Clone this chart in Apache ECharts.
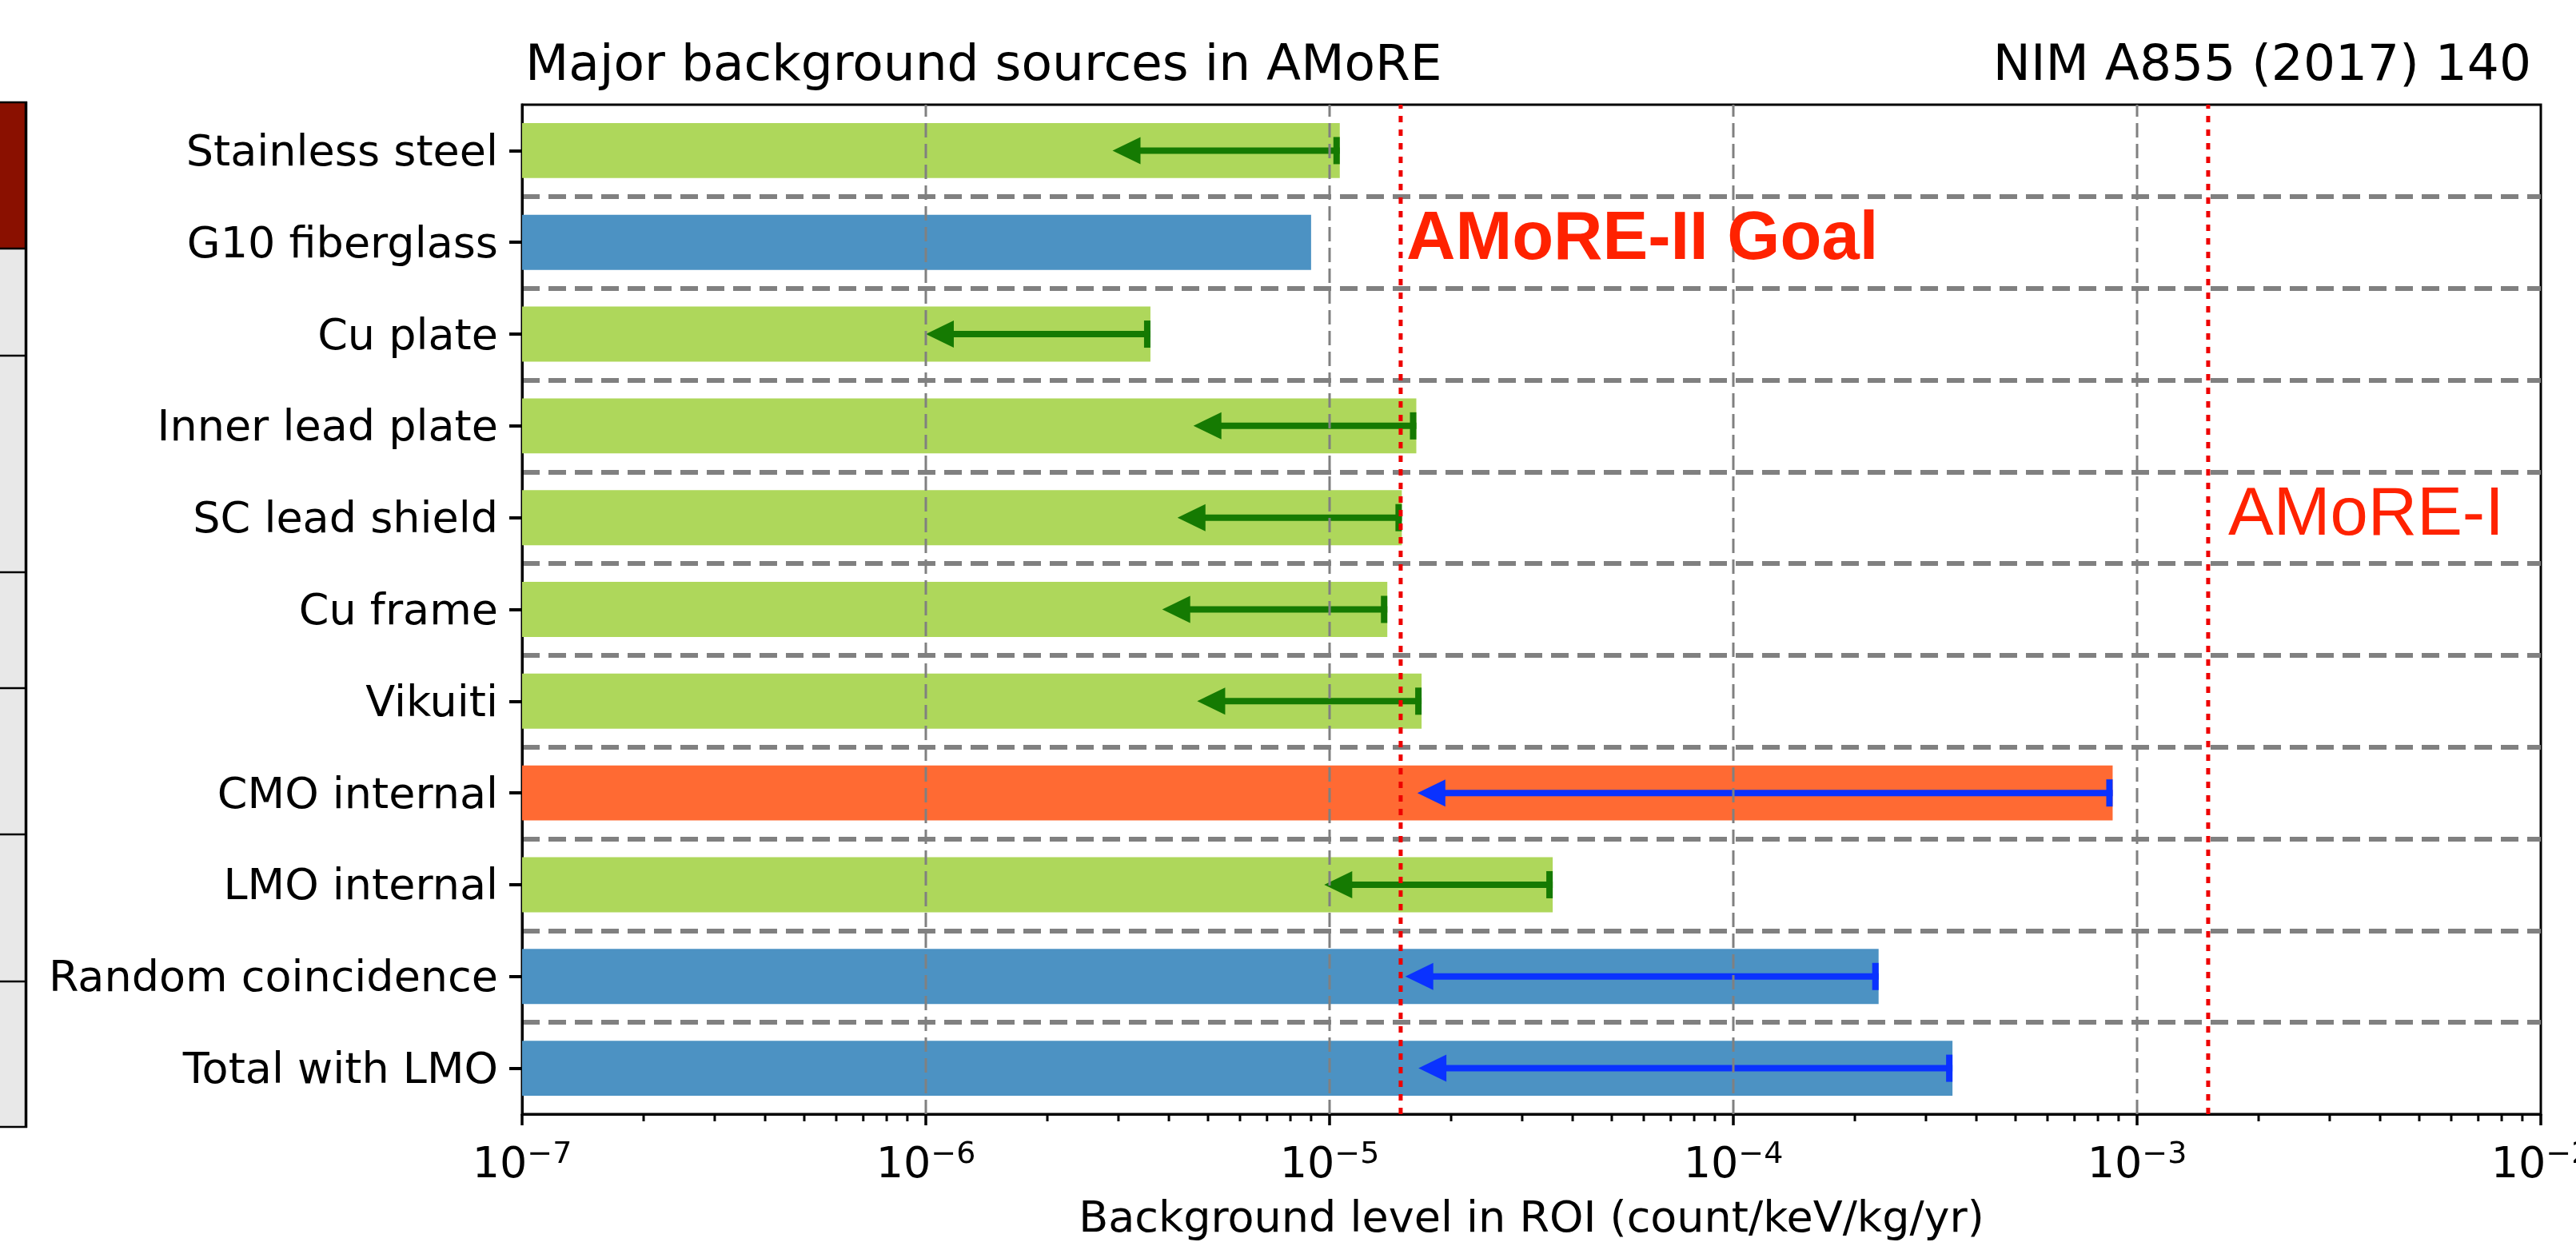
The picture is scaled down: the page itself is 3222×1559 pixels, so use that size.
<!DOCTYPE html>
<html>
<head>
<meta charset="utf-8">
<script src="https://cdn.jsdelivr.net/npm/echarts@6/dist/echarts.min.js"></script>
<style>
  html, body { margin: 0; padding: 0; background: #ffffff; }
  #chart { width: 3222px; height: 1559px; }
</style>
</head>
<body>
<div id="chart"></div>
<script>
// Background sources, top to bottom
const sources = ['Stainless steel', 'G10 fiberglass', 'Cu plate', 'Inner lead plate', 'SC lead shield',
  'Cu frame', 'Vikuiti', 'CMO internal', 'LMO internal', 'Random coincidence', 'Total with LMO'];
// Background level in ROI (count/keV/kg/yr)
const levels = [1.06e-5, 9.0e-6, 3.6e-6, 1.64e-5, 1.51e-5, 1.39e-5, 1.69e-5, 8.7e-4, 3.57e-5, 2.29e-4, 3.49e-4];
// Left end of each limit arrow (null: no arrow)
const arrowEnds = [2.9e-6, null, 1.0e-6, 4.6e-6, 4.2e-6, 3.85e-6, 4.7e-6, 1.65e-5, 9.7e-6, 1.54e-5, 1.66e-5];
// Colour group of each bar: 0 green, 1 blue, 2 orange
const groups = [0, 1, 0, 0, 0, 0, 0, 2, 0, 1, 1];
// Experiment goals drawn as dotted lines
const goalLevels = [1.5e-5, 1.5e-3];
const goalNames = ['AMoRE-II Goal', 'AMoRE-I'];
// Axis range and decade marks
const xMin = 1e-7, xMax = 1e-2;
const gridDecades = [1e-6, 1e-5, 1e-4, 1e-3];
const decadeExponents = [-7, -6, -5, -4, -3];
const minorSteps = [2, 3, 4, 5, 6, 7, 8, 9];

const barColors = ['#aed75b', '#4c92c3', '#ff6a33'];
const arrowColors = ['#157a02', '#0a32ff', '#0a32ff'];
const FONT = 'DejaVu Sans';

const chart = echarts.init(document.getElementById('chart'), null, { renderer: 'canvas' });

const barData = sources.map((s, i) => [levels[i], i, groups[i]]);
const arrowData = [];
sources.forEach((s, i) => { if (arrowEnds[i] !== null) arrowData.push([levels[i], arrowEnds[i], i, groups[i]]); });
const minorData = [];
decadeExponents.forEach(e => minorSteps.forEach(k => minorData.push([k * Math.pow(10, e), 0])));

function renderBar(params, api) {
  const idx = api.value(1);
  const p0 = api.coord([xMin, idx]);
  const p1 = api.coord([api.value(0), idx]);
  const h = api.size([1, 1])[1] * 0.6;
  return {
    type: 'rect',
    shape: { x: p0[0], y: p1[1] - h / 2, width: p1[0] - p0[0], height: h },
    style: { fill: barColors[api.value(2)] }
  };
}

function renderArrow(params, api) {
  const idx = api.value(2);
  const pv = api.coord([api.value(0), idx]);
  const pt = api.coord([api.value(1), idx]);
  const color = arrowColors[api.value(3)];
  const y = pv[1];
  const headLen = 35, headHalf = 17;
  return {
    type: 'group',
    children: [
      { type: 'line', shape: { x1: pt[0] + headLen - 2, y1: y, x2: pv[0], y2: y },
        style: { stroke: color, lineWidth: 8 } },
      { type: 'rect', shape: { x: pv[0] - 8, y: y - 17, width: 8, height: 34 },
        style: { fill: color } },
      { type: 'polygon', shape: { points: [[pt[0], y], [pt[0] + headLen, y - headHalf], [pt[0] + headLen, y + headHalf]] },
        style: { fill: color } }
    ]
  };
}

function renderVLine(style) {
  return function (params, api) {
    const x = api.coord([api.value(0), 0])[0];
    const cs = params.coordSys;
    return {
      type: 'line',
      shape: { x1: x, y1: cs.y + cs.height, x2: x, y2: cs.y },
      style: style
    };
  };
}

function renderMinorTick(params, api) {
  const x = api.coord([api.value(0), 0])[0];
  const cs = params.coordSys;
  const y0 = cs.y + cs.height;
  return {
    type: 'line',
    shape: { x1: x, y1: y0, x2: x, y2: y0 + 9 },
    style: { stroke: '#000', lineWidth: 3 }
  };
}

function expLabel(v) {
  const e = Math.round(Math.log10(v));
  return '{b|10}{s|' + (e < 0 ? '\u2212' : '') + Math.abs(e) + '}';
}

const option = {
  animation: false,
  backgroundColor: '#ffffff',
  title: [
    { text: 'Major background sources in AMoRE', left: 657, top: 52, padding: 0,
      textStyle: { fontFamily: FONT, fontSize: 63, fontWeight: 'normal', color: '#000' } },
    { text: 'NIM A855 (2017) 140', right: 56, top: 52, padding: 0,
      textStyle: { fontFamily: FONT, fontSize: 63, fontWeight: 'normal', color: '#000' } }
  ],
  grid: {
    left: 653, right: 44, top: 131, bottom: 165,
    containLabel: false, outerBoundsMode: 'none',
    show: true, borderColor: '#000', borderWidth: 3, backgroundColor: 'transparent'
  },
  xAxis: {
    type: 'log', logBase: 10, min: xMin, max: xMax, splitNumber: 5,
    axisLine: { show: true, lineStyle: { color: '#000', width: 3 } },
    axisTick: { show: true, length: 14, lineStyle: { color: '#000', width: 3.5 } },
    minorTick: { show: false },
    splitLine: { show: false },
    minorSplitLine: { show: false },
    axisLabel: {
      show: true, margin: 38, showMinLabel: true, showMaxLabel: true, hideOverlap: false,
      formatter: expLabel,
      rich: {
        b: { fontFamily: FONT, fontSize: 54, lineHeight: 54, verticalAlign: 'bottom', color: '#000' },
        s: { fontFamily: FONT, fontSize: 38, lineHeight: 38, padding: [0, 0, 22, 0], verticalAlign: 'bottom', color: '#000' }
      }
    },
    name: 'Background level in ROI (count/keV/kg/yr)',
    nameLocation: 'middle', nameGap: 106,
    nameTextStyle: { fontFamily: FONT, fontSize: 54, color: '#000' }
  },
  yAxis: {
    type: 'category', data: sources, inverse: true,
    axisLine: { show: true, lineStyle: { color: '#000', width: 3 } },
    axisTick: { show: true, alignWithLabel: true, length: 16, lineStyle: { color: '#000', width: 4 } },
    axisLabel: {
      interval: 0, margin: 30,
      formatter: v => '{n|' + v + '}',
      rich: { n: { fontFamily: FONT, fontSize: 54, lineHeight: 54, padding: [9, 0, 0, 0], color: '#000' } }
    },
    splitLine: {
      show: true, interval: 0, showMinLine: false, showMaxLine: false,
      lineStyle: { color: '#808080', width: 6, type: [22, 11] }
    }
  },
  series: [
    { type: 'custom', name: 'bars', z: 2, silent: true, renderItem: renderBar,
      encode: { x: 0, y: 1 }, data: barData },
    { type: 'custom', name: 'limits', z: 4, silent: true, renderItem: renderArrow,
      encode: { x: [0, 1], y: 2 }, data: arrowData },
    { type: 'custom', name: 'decades', z: 5, silent: true,
      renderItem: renderVLine({ stroke: '#808080', lineWidth: 3, lineDash: [18, 8] }),
      encode: { x: 0, y: 1 }, data: gridDecades.map(v => [v, 0]) },
    { type: 'custom', name: 'goals', z: 6, silent: true,
      renderItem: renderVLine({ stroke: '#ee0000', lineWidth: 5, lineDash: [8, 9] }),
      encode: { x: 0, y: 1 }, data: goalLevels.map(v => [v, 0]) },
    { type: 'custom', name: 'minorTicks', z: 6, silent: true, renderItem: renderMinorTick,
      encode: { x: 0, y: 1 }, data: minorData }
  ],
  graphic: [
    // table edge at the left margin
    { type: 'rect', z: 1, shape: { x: -5, y: 128, width: 37, height: 183 }, style: { fill: '#8a1000' } },
    { type: 'rect', z: 1, shape: { x: -5, y: 311, width: 37, height: 1099 }, style: { fill: '#e8e8e8' } },
    ...[128, 311, 445, 716, 861, 1044, 1228, 1410].map(y => ({
      type: 'line', z: 2, shape: { x1: 0, y1: y, x2: 34, y2: y }, style: { stroke: '#000', lineWidth: 2.5 }
    })),
    { type: 'line', z: 2, shape: { x1: 32.5, y1: 127, x2: 32.5, y2: 1411 }, style: { stroke: '#000', lineWidth: 3.5 } },
    // goal labels
    { type: 'text', z: 100, x: 1759, y: 258,
      style: { text: goalNames[0], fill: '#ff2200', fontFamily: 'Liberation Sans', fontSize: 85,
        fontWeight: 'bold', align: 'left', verticalAlign: 'top' } },
    { type: 'text', z: 100, x: 2787, y: 603,
      style: { text: goalNames[1], fill: '#ff2200', fontFamily: 'Liberation Sans', fontSize: 85,
        fontWeight: 'normal', align: 'left', verticalAlign: 'top' } }
  ]
};

chart.setOption(option);
</script>
</body>
</html>
